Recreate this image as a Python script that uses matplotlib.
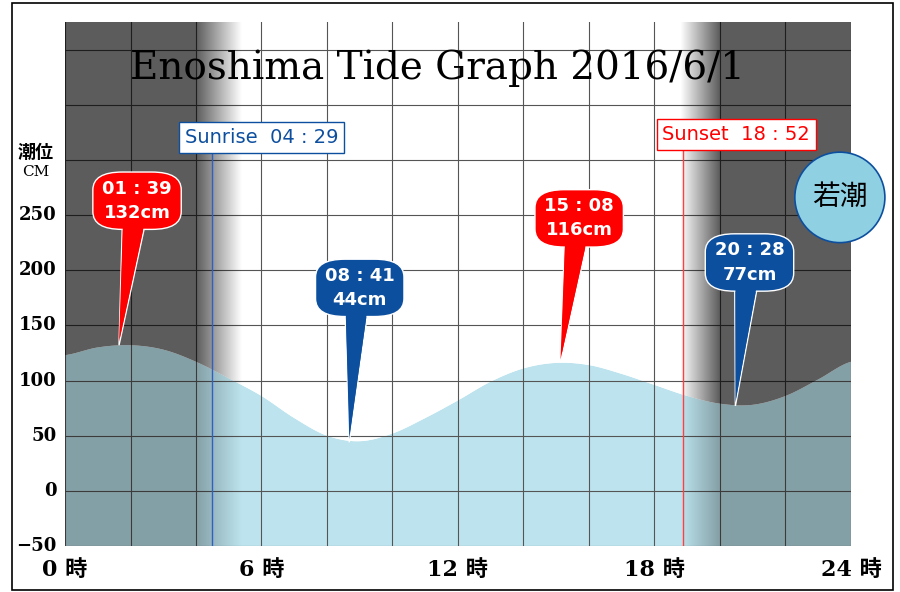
import numpy as np
import matplotlib
matplotlib.use("Agg")
import matplotlib.pyplot as plt
from matplotlib.patches import Polygon, FancyBboxPatch, Rectangle, Ellipse

hours = list(range(25))
tide = [123,130,132,128,117,102,86,66,50,45,52,66,82,99,111,116,114,106,96,86,79,78,86,101,117]
highs = [("01 : 39", "132cm", 1.65, 132, 2.2, 263, "#ff0000"),
         ("15 : 08", "116cm", 15.13, 116, 15.7, 247, "#ff0000")]
lows = [("08 : 41", "44cm", 8.68, 44, 9.0, 184, "#0d4f9f"),
        ("20 : 28", "77cm", 20.47, 77, 20.9, 207, "#0d4f9f")]
sunrise, sunset = 4 + 29/60, 18 + 52/60
yticks = [-50, 0, 50, 100, 150, 200, 250]
xticks = [0, 6, 12, 18, 24]

serif = ["DejaVu Serif", "Noto Sans CJK JP"]
fig = plt.figure(figsize=(9, 5.92), dpi=100)
ax = fig.add_axes([65/900, 46/592, 786/900, 524/592])
ax.set_xlim(0, 24); ax.set_ylim(-50, 425)

xs, ys = [], []
P = [tide[0]] + tide + [tide[-1]]
for i in range(24):
    p0, p1, p2, p3 = P[i], P[i+1], P[i+2], P[i+3]
    for t in np.linspace(0, 1, 12, endpoint=False):
        xs.append(hours[i] + t)
        ys.append(0.5*((2*p1) + (-p0+p2)*t + (2*p0-5*p1+4*p2-p3)*t**2 + (-p0+3*p1-3*p2+p3)*t**3))
xs.append(24); ys.append(tide[-1])
xs = np.array(xs); ys = np.array(ys)

sea = Polygon(np.column_stack([np.r_[xs, 24, 0], np.r_[ys, -50, -50]]), closed=True, fc="#bde4ee", ec="none", zorder=1)
sky = Polygon(np.column_stack([np.r_[xs, 24, 0], np.r_[ys, 425, 425]]), closed=True, fc="white", ec="none", zorder=1)
ax.add_patch(sea); ax.add_patch(sky)

for v in range(-50, 426, 50):
    ax.axhline(v, color="#555555", lw=0.8, zorder=2)
for h in range(0, 25, 2):
    ax.axvline(h, color="#555555", lw=0.8, zorder=2)

gx = np.linspace(0, 24, 800)
d = np.zeros_like(gx)
d[gx <= 4.0] = 1
m = (gx > 4.0) & (gx < 5.4); d[m] = 1 - (gx[m]-4.0)/1.4
m = (gx > 18.8) & (gx < 20.0); d[m] = (gx[m]-18.8)/1.2
d[gx >= 20.0] = 1
for patch, amax in [(sky, 0.64), (sea, 0.3)]:
    img = np.zeros((1, len(gx), 4)); img[..., 3] = d*amax
    im = ax.imshow(img, extent=[0, 24, -50, 425], aspect="auto", zorder=3, interpolation="bilinear")
    im.set_clip_path(patch)

ax.plot([sunrise, sunrise], [-50, 320], color="#3060c0", lw=1, zorder=4)
ax.plot([sunset, sunset], [-50, 323], color="#ff4040", lw=1, zorder=4)
cond = ["DejaVu Sans"]
ax.text(6.0, 320, "Sunrise  04 : 29", color="#0d4f9f", fontsize=14, ha="center", va="center",
        fontfamily=cond, zorder=6, bbox=dict(boxstyle="square,pad=0.3", fc="white", ec="#0d4f9f"))
ax.text(20.5, 323, "Sunset  18 : 52", color="#ff0000", fontsize=14, ha="center", va="center",
        fontfamily=cond, zorder=6, bbox=dict(boxstyle="square,pad=0.3", fc="white", ec="#ff0000"))

for t1, t2, tx, ty, bx, by, c in highs + lows:
    w, hgt = 2.7, 52
    ax.add_patch(Polygon([[bx-0.45, by-hgt/2+5], [bx+0.25, by-hgt/2+5], [tx, ty]], closed=True, fc=c, ec="white", lw=1, zorder=7))
    ax.add_patch(FancyBboxPatch((bx-w/2, by-hgt/2), w, hgt, boxstyle="round,pad=0,rounding_size=0.9",
                                mutation_aspect=18, fc=c, ec="white", lw=1, zorder=7))
    ax.add_patch(Polygon([[bx-0.43, by-hgt/2+6], [bx+0.23, by-hgt/2+6], [tx, ty+3]], closed=True, fc=c, ec="none", zorder=8))
    ax.text(bx, by+11, t1, color="white", fontsize=13, ha="center", va="center", fontweight="bold", zorder=9)
    ax.text(bx, by-11, t2, color="white", fontsize=13, ha="center", va="center", fontweight="bold", zorder=9)

ax.text(11.36, 383, "Enoshima Tide Graph 2016/6/1", fontsize=28, ha="center", va="center",
        fontfamily=serif, zorder=9)

circ = Ellipse((23.66, 266), 2.75, 82, fc="#8fd0e3", ec="#0d4f9f", lw=1.2, zorder=9, clip_on=False)
ax.add_patch(circ)
ax.text(23.66, 266, "若潮", fontsize=20, ha="center", va="center", fontfamily="Noto Sans CJK JP", zorder=10)

for s in ax.spines.values():
    s.set_visible(False)
ax.set_xticks([]); ax.set_yticks([])
for v in yticks:
    ax.text(-0.25, v, str(v).replace("-", "−"), ha="right", va="center", fontsize=13, fontweight="bold", fontfamily=serif)
for h in xticks:
    ax.text(h, -62, f"{h} 時", ha="center", va="top", fontsize=16, fontweight="bold", fontfamily=serif)
fig.text(18/900, (592-152)/592, "潮位", fontsize=13, fontweight="bold", fontfamily="Noto Sans CJK JP", va="center")
fig.text(22/900, (592-172)/592, "CM", fontsize=11, fontfamily=serif, va="center")

fig.patches.append(Rectangle((12/900, 2/592), 881/900, 587/592, transform=fig.transFigure, fill=False, ec="black", lw=1.2))
fig.savefig("out.png", dpi=100)
